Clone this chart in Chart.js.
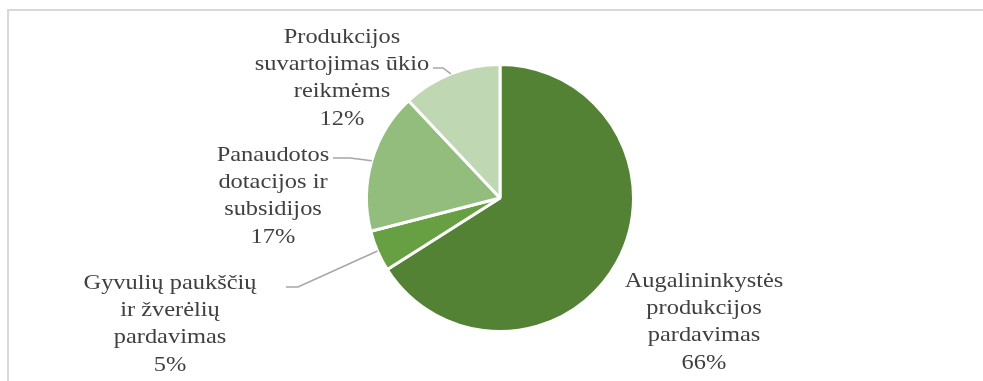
<!DOCTYPE html>
<html>
<head>
<meta charset="UTF-8">
<title>Pajamų struktūra</title>
<script src="https://cdn.jsdelivr.net/npm/chart.js@4"></script>
<style>
body{margin:0;background:#fff;}
#wrap{position:relative;width:983px;height:381px;}
#frame{position:absolute;left:7px;top:9px;right:-5px;bottom:-5px;border-top:2px solid #d9d9d9;border-left:2px solid #d9d9d9;}
canvas{position:absolute;left:0;top:0;}
</style>
</head>
<body>
<div id="wrap">
<div id="frame"></div>
<canvas id="pie" width="983" height="381"></canvas>
</div>
<script>
// duomenys
const categories = [
  ['Augalininkystės','produkcijos','pardavimas'],
  ['Gyvulių paukščių','ir žverėlių','pardavimas'],
  ['Panaudotos','dotacijos ir','subsidijos'],
  ['Produkcijos','suvartojimas ūkio','reikmėms']
];
const shares = [66, 5, 17, 12];
const colors = ['#548235','#67a043','#93bd7c','#c0d7b4'];

// etikečių vieta (poslinkis nuo pyrago centro) ir kreipiamosios linijos
const labelPos = [
  {dx:204, dy:124, leader:null},
  {dx:-330, dy:126, leader:[[-202,89],[-214,89]]},
  {dx:-227, dy:-2, leader:[[-150,-40],[-167,-40]]},
  {dx:-158, dy:-120, leader:[[-57,-130],[-67,-130]]}
];

const labelPlugin = {
  id:'pieLabels',
  afterDatasetsDraw(chart){
    const ctx = chart.ctx;
    const meta = chart.getDatasetMeta(0);
    ctx.save();
    meta.data.forEach((arc,i)=>{
      const p = arc.getProps(['x','y','startAngle','endAngle','outerRadius'],true);
      const lp = labelPos[i];
      if(lp.leader){
        const mid = (p.startAngle+p.endAngle)/2;
        const sx = p.x + Math.cos(mid)*p.outerRadius;
        const sy = p.y + Math.sin(mid)*p.outerRadius;
        ctx.strokeStyle = '#a6a6a6';
        ctx.lineWidth = 1.5;
        ctx.beginPath();
        ctx.moveTo(sx,sy);
        lp.leader.forEach(pt=>ctx.lineTo(p.x+pt[0], p.y+pt[1]));
        ctx.stroke();
      }
      const lines = categories[i].concat([shares[i]+'%']);
      const lh = 27.3;
      const cx = p.x + lp.dx, cy = p.y + lp.dy;
      ctx.save();
      ctx.translate(cx, cy);
      ctx.scale(1.11, 1); // tekstas originale šiek tiek ištemptas
      ctx.fillStyle = '#404040';
      ctx.font = '22px "Liberation Serif", "Times New Roman", serif';
      ctx.textAlign = 'center';
      ctx.textBaseline = 'middle';
      lines.forEach((t,k)=>{
        ctx.fillText(t, 0, (k-(lines.length-1)/2)*lh);
      });
      ctx.restore();
    });
    ctx.restore();
  }
};

new Chart(document.getElementById('pie'),{
  type:'pie',
  data:{
    labels:categories.map(c=>c.join(' ')),
    datasets:[{
      data:shares,
      backgroundColor:colors,
      borderColor:'#ffffff',
      borderWidth:3
    }]
  },
  options:{
    responsive:false,
    animation:false,
    layout:{padding:{left:365,right:348,top:62,bottom:47}},
    plugins:{legend:{display:false},tooltip:{enabled:false}}
  },
  plugins:[labelPlugin]
});
</script>
</body>
</html>
